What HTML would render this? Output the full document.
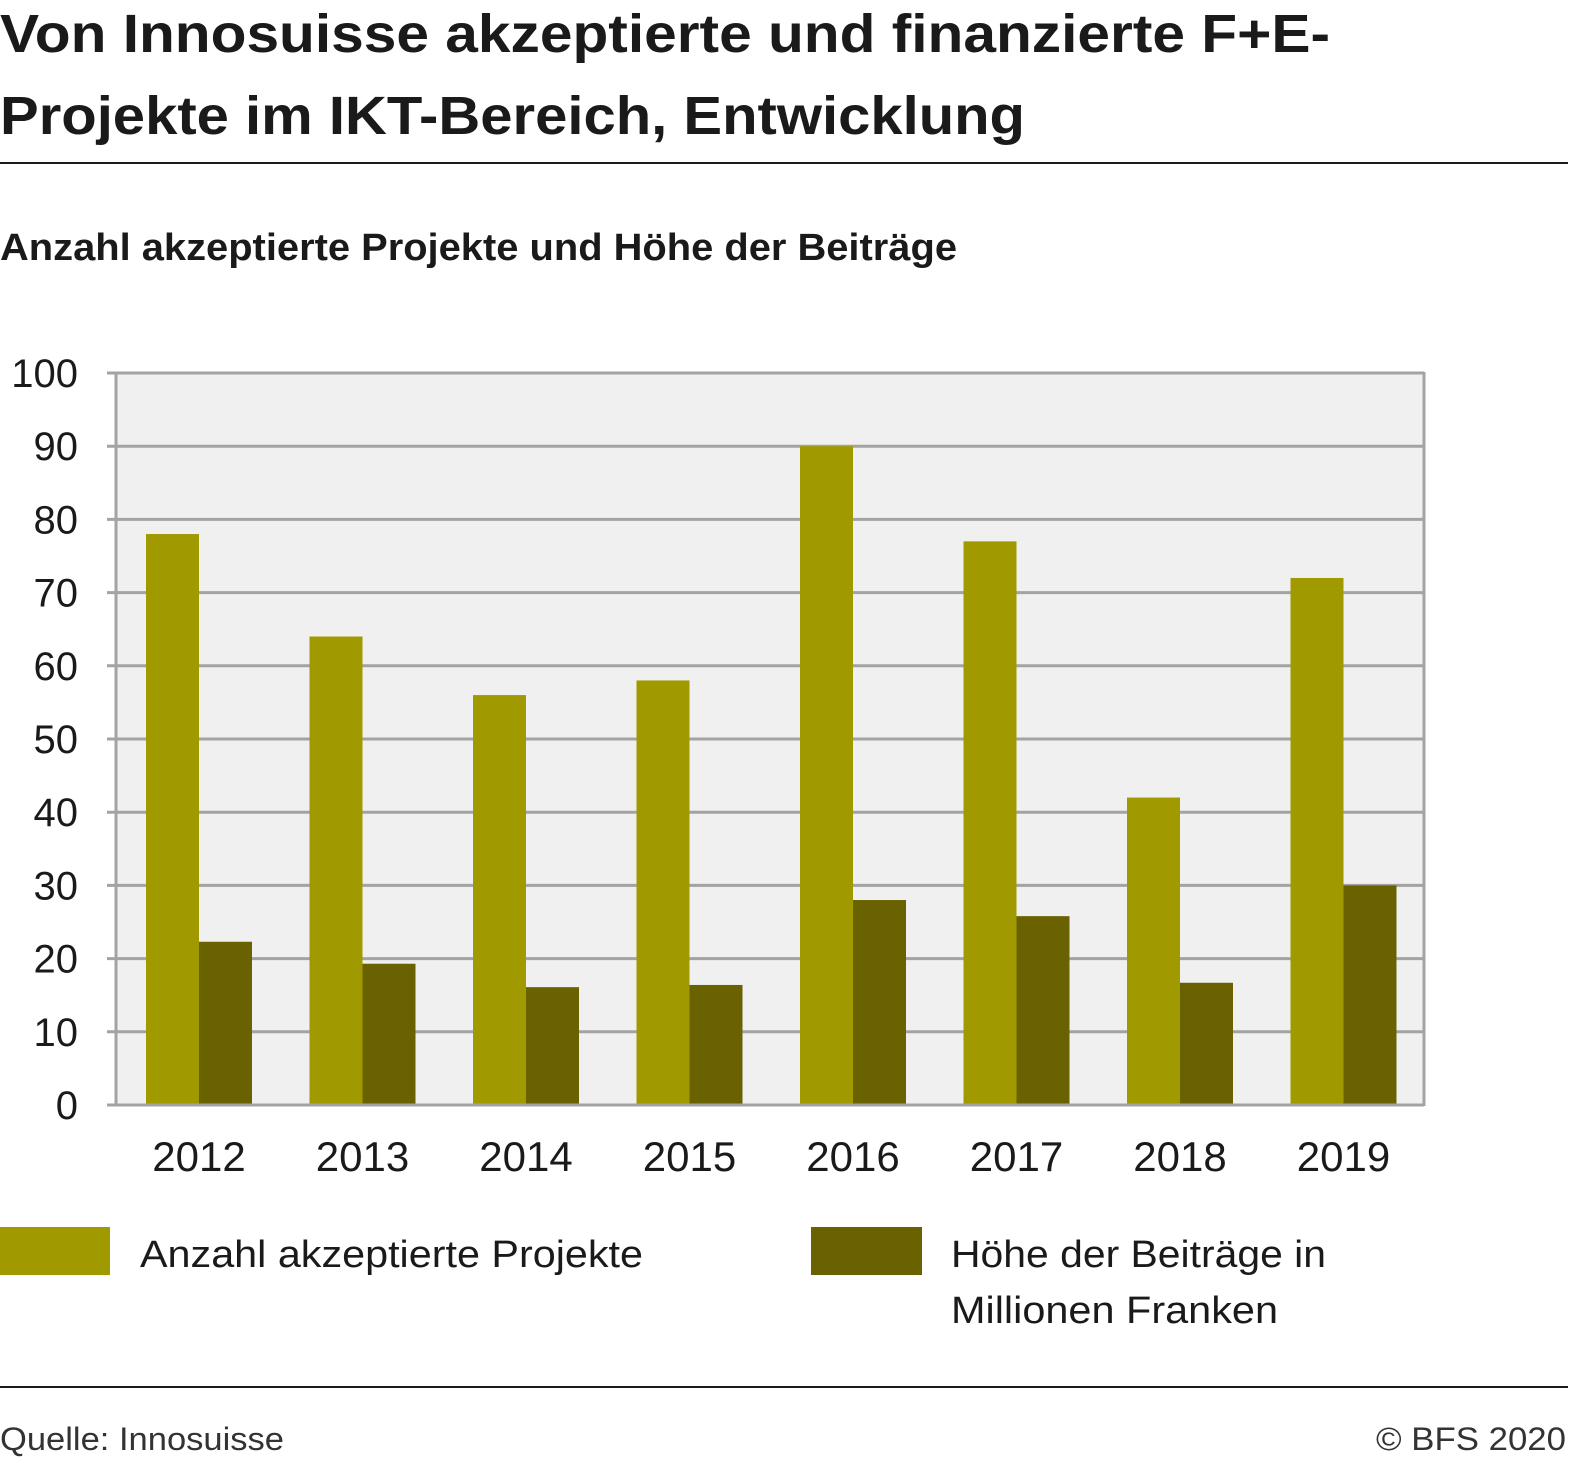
<!DOCTYPE html>
<html><head><meta charset="utf-8">
<style>
html,body{margin:0;padding:0;background:#fff;}
svg{display:block;font-family:"Liberation Sans",sans-serif;}
</style></head>
<body>
<svg id="chart" width="1572" height="1464" viewBox="0 0 1572 1464" xmlns="http://www.w3.org/2000/svg">
<text x="0" y="52" font-size="54" font-weight="bold" fill="#1a1a1a" textLength="1330" lengthAdjust="spacingAndGlyphs">Von Innosuisse akzeptierte und finanzierte F+E-</text>
<text x="0" y="134" font-size="54" font-weight="bold" fill="#1a1a1a" textLength="1025" lengthAdjust="spacingAndGlyphs">Projekte im IKT-Bereich, Entwicklung</text>
<rect x="0" y="162" width="1568" height="2" fill="#1a1a1a"/>
<text x="0" y="260" font-size="38" font-weight="bold" fill="#1a1a1a" textLength="957" lengthAdjust="spacingAndGlyphs">Anzahl akzeptierte Projekte und Höhe der Beiträge</text>
<rect x="116" y="373" width="1308" height="732" fill="#f0f0f0"/>
<g id="grid"></g>
<g id="bars"></g>
<g id="xlabels"></g>
<rect x="0" y="1227" width="110" height="48" fill="#a09a00"/>
<text x="140" y="1267" font-size="38" fill="#1a1a1a" textLength="503" lengthAdjust="spacingAndGlyphs">Anzahl akzeptierte Projekte</text>
<rect x="811" y="1227" width="111" height="48" fill="#6a6200"/>
<text x="951" y="1267" font-size="38" fill="#1a1a1a" textLength="375" lengthAdjust="spacingAndGlyphs">Höhe der Beiträge in</text>
<text x="951" y="1323" font-size="38" fill="#1a1a1a" textLength="327" lengthAdjust="spacingAndGlyphs">Millionen Franken</text>
<rect x="0" y="1386" width="1568" height="2" fill="#1a1a1a"/>
<text x="0" y="1450" font-size="32" fill="#333" textLength="284" lengthAdjust="spacingAndGlyphs">Quelle: Innosuisse</text>
<text x="1566" y="1450" font-size="32" fill="#333" text-anchor="end" textLength="190" lengthAdjust="spacingAndGlyphs">© BFS 2020</text>
</svg>
<script>
const categories = ["2012","2013","2014","2015","2016","2017","2018","2019"];
const projekte = [78,64,56,58,90,77,42,72];
const beitraege = [22.3,19.3,16.1,16.4,28,25.8,16.7,30];
const yTicks = [0,10,20,30,40,50,60,70,80,90,100];

const NS="http://www.w3.org/2000/svg";
const x0=116,x1=1424,yTop=373,yBot=1105,yMax=100;
const y=v=>yBot-(v/yMax)*(yBot-yTop);
const groupW=(x1-x0)/categories.length;
const barW=53, pad=30;
function mk(tag,attrs,parent){const e=document.createElementNS(NS,tag);for(const k in attrs)e.setAttribute(k,attrs[k]);parent.appendChild(e);return e;}
const grid=document.getElementById('grid'),bars=document.getElementById('bars'),xl=document.getElementById('xlabels');
yTicks.forEach(t=>{
  const l=mk('line',{x1:107,x2:x1,y1:y(t),y2:y(t),stroke:'#a3a3a3','stroke-width':3},grid);
  
  
  const tx=mk('text',{x:78,y:y(t)+14,'font-size':40,'text-anchor':'end',fill:'#1a1a1a'},grid);
  tx.textContent=t;
  
  
});
const ax=mk('line',{x1:116,x2:116,y1:yTop-1,y2:yBot+1,stroke:'#a3a3a3','stroke-width':3},grid);


const ax2=mk('line',{x1:x1,x2:x1,y1:yTop-1,y2:yBot+1,stroke:'#a3a3a3','stroke-width':3},grid);


categories.forEach((c,i)=>{
  const gx=x0+i*groupW+pad;
  const b1=mk('rect',{x:gx,y:y(projekte[i]),width:barW,height:yBot-y(projekte[i]),fill:'#a09a00'},bars);
  
  
  const b2=mk('rect',{x:gx+barW,y:y(beitraege[i]),width:barW,height:yBot-y(beitraege[i]),fill:'#6a6200'},bars);
  
  
  const t=mk('text',{x:gx+barW,y:1171,'font-size':42,'text-anchor':'middle',fill:'#1a1a1a'},xl);
  t.textContent=c;
  
  
});
const base=mk('line',{x1:107,x2:x1,y1:yBot,y2:yBot,stroke:'#a3a3a3','stroke-width':3},bars);


</script>
</body></html>
